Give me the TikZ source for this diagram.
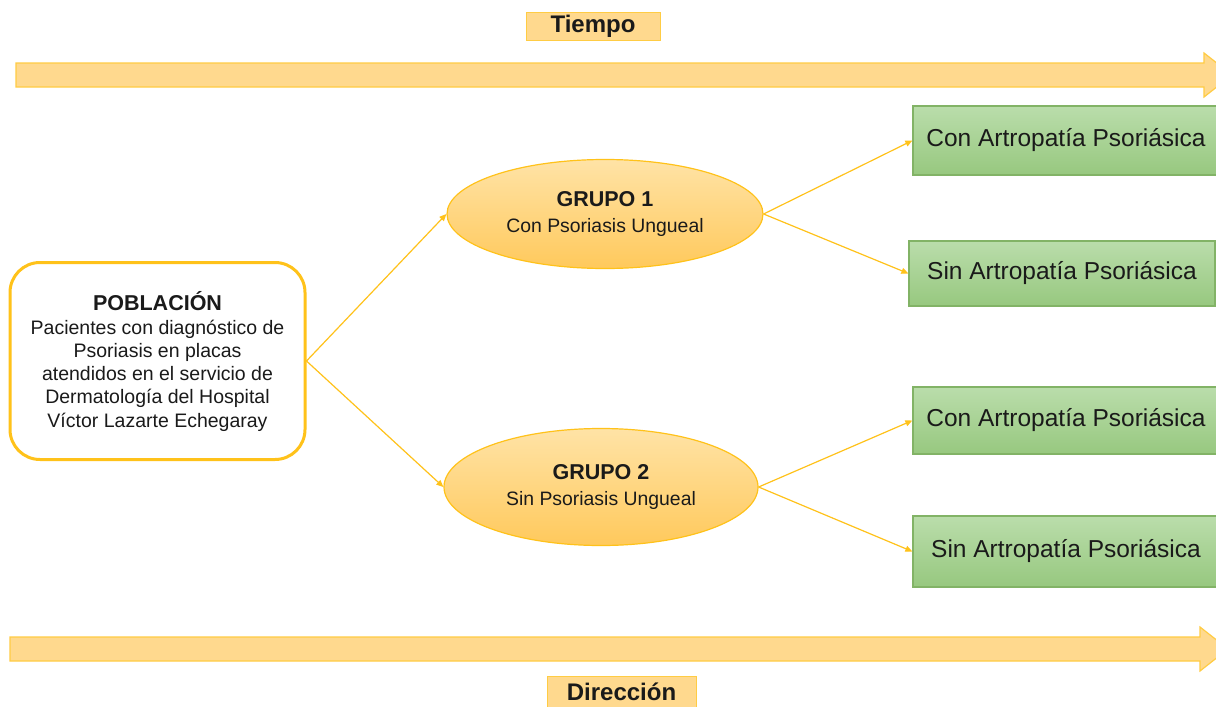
\documentclass[tikz,border=0pt]{standalone}
\usepackage{fontspec}
\setmainfont{Liberation Sans}
\usetikzlibrary{arrows.meta,shapes.geometric}
\definecolor{gold}{HTML}{FFC21A}
\definecolor{orfill}{HTML}{FFD98E}
\definecolor{orline}{HTML}{FFCC44}
\definecolor{eltop}{HTML}{FFE3A6}
\definecolor{elbot}{HTML}{FFC95C}
\definecolor{grtop}{HTML}{BADDAB}
\definecolor{grbot}{HTML}{97C87F}
\definecolor{grline}{HTML}{82B366}
\definecolor{txt}{HTML}{1A1A1A}
\tikzset{
  lab/.style={draw=orline,fill=orfill,line width=1pt,inner sep=0pt,text=txt,
    font=\fontsize{24}{28}\selectfont\bfseries},
  grupo/.style={ellipse,draw=gold,line width=1.2pt,top color=eltop,bottom color=elbot,
    minimum width=316pt,inner sep=0pt,align=center,text=txt,
    font=\fontsize{19.4}{26}\selectfont},
  outcome/.style={draw=grline,line width=1.2pt,top color=grtop,bottom color=grbot,
    minimum width=306pt,inner sep=0pt,text=txt,font=\fontsize{24.5}{28}\selectfont},
  conn/.style={draw=gold,line width=1.2pt,-{Triangle[length=7pt,width=6pt]}},
  bigarrow/.style={fill=orfill,draw=orline,line width=1.2pt,line join=miter},
}
\begin{document}
\begin{tikzpicture}[x=1pt,y=-1pt]
\useasboundingbox (0,0) rectangle (1216,707);
\begin{scope}
\clip (0,0) rectangle (1216,707);
\fill[white] (0,0) rectangle (1216,707);
% big arrows
\draw[bigarrow] (16,63) -- (1204,63) -- (1204,53) -- (1232,75) -- (1204,97) -- (1204,87) -- (16,87) -- cycle;
\draw[bigarrow] (10,637) -- (1200,637) -- (1200,627) -- (1228,649) -- (1200,671) -- (1200,661) -- (10,661) -- cycle;
% labels
\node[lab,minimum width=134pt,minimum height=28pt] (tiempo) at (593,26) {Tiempo};
\node[lab,minimum width=149pt,minimum height=32pt] (dir) at (621.5,692) {Dirección};
% population
\node[draw=gold,line width=3pt,rounded corners=30pt,fill=white,minimum width=295pt,
  minimum height=197pt,inner sep=0pt,align=center,text=txt,
  font=\fontsize{19.5}{23.2}\selectfont] (pob) at (157.5,361)
  {{\fontsize{21.5}{25}\selectfont\bfseries POBLACIÓN}\\[1pt]
   Pacientes con diagnóstico de\\ Psoriasis en placas\\ atendidos en el servicio de\\
   Dermatología del Hospital\\ Víctor Lazarte Echegaray};
% groups
\node[grupo,minimum height=109pt] (g1) at (605,214)
  {{\fontsize{21.5}{25}\selectfont\bfseries GRUPO 1}\\Con Psoriasis Ungueal};
\node[grupo,minimum width=314pt,minimum height=117pt] (g2) at (601,487)
  {{\fontsize{21.5}{25}\selectfont\bfseries GRUPO 2}\\Sin Psoriasis Ungueal};
% outcomes
\node[outcome,minimum height=69pt] (c1) at (1066,140.5) {Con Artropatía Psoriásica};
\node[outcome,minimum height=65pt] (s1) at (1062,273.5) {Sin Artropatía Psoriásica};
\node[outcome,minimum height=67pt] (c2) at (1066,420.5) {Con Artropatía Psoriásica};
\node[outcome,minimum height=71pt] (s2) at (1066,551.5) {Sin Artropatía Psoriásica};
% connectors
\draw[conn] (pob.east) -- (g1.west);
\draw[conn] (pob.east) -- (g2.west);
\draw[conn] (g1.east) -- (c1.west);
\draw[conn] (g1.east) -- (s1.west);
\draw[conn] (g2.east) -- (c2.west);
\draw[conn] (g2.east) -- (s2.west);
\end{scope}
\end{tikzpicture}
\end{document}
